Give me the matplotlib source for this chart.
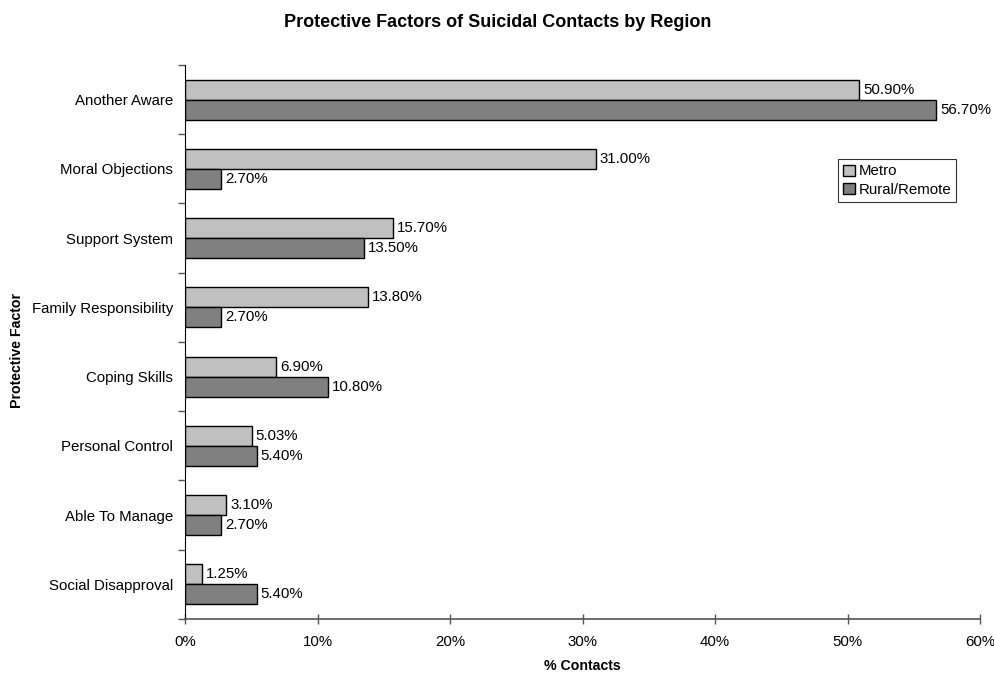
import matplotlib
matplotlib.use("Agg")
import matplotlib.pyplot as plt
import numpy as np
from matplotlib.ticker import FuncFormatter, MultipleLocator, FixedLocator

plt.rcParams['font.family'] = ['Liberation Sans', 'DejaVu Sans']

factors = ["Another Aware", "Moral Objections", "Support System", "Family Responsibility",
           "Coping Skills", "Personal Control", "Able To Manage", "Social Disapproval"]
metro = [50.90, 31.00, 15.70, 13.80, 6.90, 5.03, 3.10, 1.25]
rural = [56.70, 2.70, 13.50, 2.70, 10.80, 5.40, 2.70, 5.40]
series_names = ["Metro", "Rural/Remote"]

fig = plt.figure(figsize=(9.95, 6.75), dpi=100)
ax = fig.add_axes([0.186, 0.083, 0.799, 0.8207])

n = len(factors)
y = np.arange(n)
h = 0.29
fs = 10.8
ax.barh(y - h / 2, metro, height=h, color="#C0C0C0", edgecolor="black", linewidth=1.0,
        label=series_names[0])
ax.barh(y + h / 2, rural, height=h, color="#808080", edgecolor="black", linewidth=1.0,
        label=series_names[1])

for yi, v in zip(y, metro):
    ax.text(v + 0.3, yi - h / 2, f"{v:.2f}%", va="center", ha="left", fontsize=fs)
for yi, v in zip(y, rural):
    ax.text(v + 0.3, yi + h / 2, f"{v:.2f}%", va="center", ha="left", fontsize=fs)

ax.set_ylim(n - 0.5, -0.5)
ax.set_xlim(0, 60)
ax.set_yticks(y)
ax.set_yticklabels(factors, fontsize=fs)
ax.yaxis.set_minor_locator(FixedLocator(np.arange(-0.5, n, 1.0)))
ax.tick_params(axis="y", which="major", length=0, pad=8.5)
ax.tick_params(axis="y", which="minor", length=5, width=1, color="#555555", direction="out")

ax.xaxis.set_major_locator(MultipleLocator(10))
ax.xaxis.set_major_formatter(FuncFormatter(lambda v, p: f"{v:.0f}%"))
ax.tick_params(axis="x", which="major", length=7, width=1, direction="inout", color="#555555",
               labelsize=fs, pad=8)

for s in ["top", "right"]:
    ax.spines[s].set_visible(False)
ax.spines["left"].set_color("black")
ax.spines["bottom"].set_color("#555555")
ax.spines["bottom"].set_linewidth(1.2)

ax.set_xlabel("% Contacts", fontsize=10.2, fontweight="bold", labelpad=7)
fig.text(0.017, 0.5 - 0.02, "Protective Factor", rotation=90, va="center", ha="center",
         fontsize=10.2, fontweight="bold")
fig.text(0.5, 0.967, "Protective Factors of Suicidal Contacts by Region", ha="center",
         va="center", fontsize=13, fontweight="bold")

leg = ax.legend(loc="upper left", bbox_to_anchor=(838 / 995, 1 - 159 / 675),
                bbox_transform=fig.transFigure, fontsize=fs, frameon=True, fancybox=False,
                handlelength=0.75, handleheight=0.75, handletextpad=0.25, borderpad=0.35,
                labelspacing=0.3, borderaxespad=0)
leg.get_frame().set_edgecolor("black")
leg.get_frame().set_linewidth(0.8)

fig.savefig("out.png", dpi=100)
